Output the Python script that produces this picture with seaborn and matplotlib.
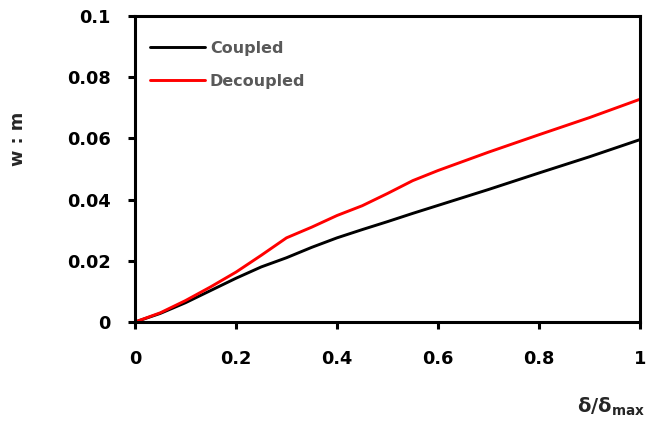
import numpy as np
import pandas as pd
import matplotlib
matplotlib.use("Agg")
import matplotlib.pyplot as plt
import seaborn as sns

# Normalised displacement and the response of both models
x = [0.0, 0.05, 0.1, 0.15, 0.2, 0.25, 0.3, 0.35, 0.4, 0.45, 0.5, 0.55, 0.6, 0.7, 0.8, 0.9, 1.0]
coupled = [0.0, 0.0028, 0.0063, 0.0103, 0.0143, 0.0180, 0.0210, 0.0244, 0.0275, 0.0302,
           0.0328, 0.0355, 0.0381, 0.0433, 0.0487, 0.0540, 0.0596]
decoupled = [0.0, 0.0030, 0.0070, 0.0115, 0.0163, 0.0218, 0.0275, 0.0310, 0.0348, 0.0380,
             0.0420, 0.0462, 0.0495, 0.0555, 0.0612, 0.0668, 0.0728]
series = ["Coupled", "Decoupled"]
x_ticks = [0, 0.2, 0.4, 0.6, 0.8, 1]
x_tick_labels = ["0", "0.2", "0.4", "0.6", "0.8", "1"]
y_ticks = [0, 0.02, 0.04, 0.06, 0.08, 0.1]
y_tick_labels = ["0", "0.02", "0.04", "0.06", "0.08", "0.1"]

df = pd.DataFrame({
    "x": x + x,
    "w": coupled + decoupled,
    "model": [series[0]] * len(x) + [series[1]] * len(x),
})

sns.set_style("white")
plt.rcParams["font.family"] = ["DejaVu Sans"]
plt.rcParams["font.weight"] = "bold"
plt.rcParams["mathtext.fontset"] = "custom"
plt.rcParams["mathtext.bf"] = "DejaVu Sans:bold"
plt.rcParams["mathtext.rm"] = "DejaVu Sans:bold"

fig = plt.figure(figsize=(6.49, 4.24), dpi=100)
ax = fig.add_axes([135 / 649, 1 - 322 / 424, 505 / 649, 306 / 424])

sns.lineplot(data=df, x="x", y="w", hue="model", palette=["black", "#ff0000"],
             linewidth=2.1, ax=ax, legend=True)

ax.set_xlim(0, 1)
ax.set_ylim(0, 0.1)
ax.set_xticks(x_ticks)
ax.set_xticklabels(x_tick_labels)
ax.set_yticks(y_ticks)
ax.set_yticklabels(y_tick_labels)
ax.set_xlabel("")
ax.set_ylabel("")

for s in ax.spines.values():
    s.set_visible(True)
    s.set_linewidth(2.2)
    s.set_color("black")

ax.tick_params(axis="both", which="major", direction="out", length=5, width=2.2,
               color="black", labelsize=12.8, labelcolor="black")
ax.tick_params(axis="y", pad=12.5, left=True)
ax.tick_params(axis="x", pad=15, bottom=True)
for lab in ax.get_xticklabels() + ax.get_yticklabels():
    lab.set_fontweight("bold")

leg = ax.legend(loc="upper left", bbox_to_anchor=(0.001, 0.965), frameon=False,
                handlelength=3.45, handletextpad=0.3, labelspacing=1.1,
                prop={"weight": "bold", "size": 11.5})
for t in leg.get_texts():
    t.set_color("#595959")
for h in leg.get_lines():
    h.set_linewidth(2.1)

fig.text(18 / 649, 1 - 139 / 424, "w : m", rotation=90, ha="center", va="center",
         fontsize=12.8, fontweight="bold")
fig.text(645 / 649, 1 - 413 / 424, r"δ/δ$_{\mathbf{max}}$", ha="right", va="baseline",
         fontsize=14, fontweight="bold")

fig.savefig("out.png", dpi=100)
